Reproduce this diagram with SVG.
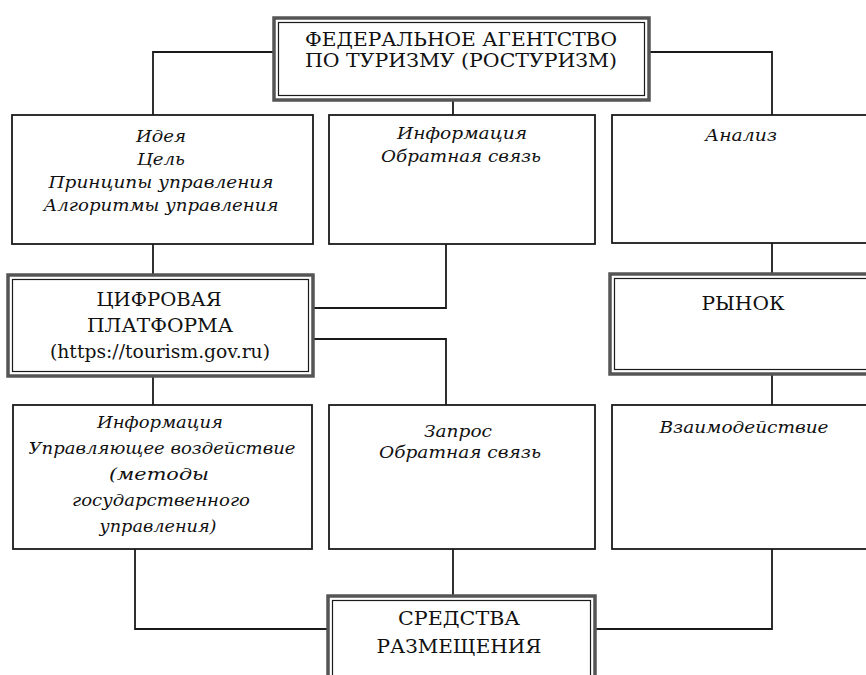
<svg xmlns="http://www.w3.org/2000/svg" width="866" height="675" viewBox="0 0 866 675">
<style>
.box{fill:#fff;stroke:#1a1a1a;stroke-width:1.8}
.dbl-o{fill:#fff;stroke:#555;stroke-width:3.5}
.dbl-i{fill:none;stroke:#1a1a1a;stroke-width:1.2}
.conn{fill:none;stroke:#1a1a1a;stroke-width:1.8}
.up{font-family:"DejaVu Serif","Liberation Serif",serif;font-size:19px;fill:#111;text-anchor:middle}
.it{font-family:"DejaVu Serif","Liberation Serif",serif;font-style:italic;font-size:17px;fill:#111;text-anchor:middle}
</style>
<rect width="866" height="675" fill="#fff"/>
<g id="connectors">
<polyline class="conn" points="274,52 153,52 153,115"/>
<polyline class="conn" points="649,52 772,52 772,115"/>
<line class="conn" x1="453" y1="100" x2="453" y2="115"/>
<line class="conn" x1="153" y1="244" x2="153" y2="275"/>
<polyline class="conn" points="446,244 446,308 313,308"/>
<polyline class="conn" points="313,339 446,339 446,405"/>
<line class="conn" x1="772" y1="243" x2="772" y2="274"/>
<line class="conn" x1="153" y1="376" x2="153" y2="405"/>
<line class="conn" x1="772" y1="374" x2="772" y2="405"/>
<polyline class="conn" points="135,549 135,629 328,629"/>
<line class="conn" x1="453" y1="549" x2="453" y2="596"/>
<polyline class="conn" points="772,549 772,629 595,629"/>
</g>
<g id="rosturizm">
<rect class="dbl-o" x="274" y="18" width="375" height="82"/>
<rect class="dbl-i" x="278.5" y="22.5" width="366" height="73"/>
<text class="up" x="461" y="46" font-size="20" textLength="312" lengthAdjust="spacingAndGlyphs">ФЕДЕРАЛЬНОЕ АГЕНТСТВО</text>
<text class="up" x="461" y="67" font-size="20" textLength="312" lengthAdjust="spacingAndGlyphs">ПО ТУРИЗМУ (РОСТУРИЗМ)</text>
</g>
<g id="idea">
<rect class="box" x="12" y="115" width="301" height="129"/>
<text class="it" x="161" y="142" textLength="50" lengthAdjust="spacingAndGlyphs">Идея</text>
<text class="it" x="161" y="165" textLength="48" lengthAdjust="spacingAndGlyphs">Цель</text>
<text class="it" x="161" y="188" textLength="225" lengthAdjust="spacingAndGlyphs">Принципы управления</text>
<text class="it" x="161" y="211" textLength="235" lengthAdjust="spacingAndGlyphs">Алгоритмы управления</text>
</g>
<g id="info1">
<rect class="box" x="329" y="115" width="266" height="129"/>
<text class="it" x="462" y="139" textLength="130" lengthAdjust="spacingAndGlyphs">Информация</text>
<text class="it" x="461" y="162" textLength="160" lengthAdjust="spacingAndGlyphs">Обратная связь</text>
</g>
<g id="analiz">
<rect class="box" x="612" y="115" width="262" height="128"/>
<text class="it" x="741" y="141" textLength="72" lengthAdjust="spacingAndGlyphs">Анализ</text>
</g>
<g id="platform">
<rect class="dbl-o" x="8" y="275" width="305" height="101"/>
<rect class="dbl-i" x="12.5" y="279.5" width="296" height="92"/>
<text class="up" x="159" y="306" textLength="125" lengthAdjust="spacingAndGlyphs">ЦИФРОВАЯ</text>
<text class="up" x="160" y="332" textLength="146" lengthAdjust="spacingAndGlyphs">ПЛАТФОРМА</text>
<text class="up" x="160" y="358" textLength="220" lengthAdjust="spacingAndGlyphs">(https://tourism.gov.ru)</text>
</g>
<g id="rynok">
<rect class="dbl-o" x="610" y="274" width="270" height="100"/>
<rect class="dbl-i" x="614.5" y="278.5" width="270" height="91"/>
<text class="up" x="743" y="310" textLength="83" lengthAdjust="spacingAndGlyphs">РЫНОК</text>
</g>
<g id="info2">
<rect class="box" x="13" y="405" width="299" height="144"/>
<text class="it" x="160" y="428" textLength="126" lengthAdjust="spacingAndGlyphs">Информация</text>
<text class="it" x="162" y="454" textLength="267" lengthAdjust="spacingAndGlyphs">Управляющее воздействие</text>
<text class="it" x="159" y="480" textLength="100" lengthAdjust="spacingAndGlyphs">(методы</text>
<text class="it" x="161" y="506" textLength="178" lengthAdjust="spacingAndGlyphs">государственного</text>
<text class="it" x="158" y="532" textLength="117" lengthAdjust="spacingAndGlyphs">управления)</text>
</g>
<g id="zapros">
<rect class="box" x="329" y="405" width="266" height="144"/>
<text class="it" x="458" y="437" textLength="68" lengthAdjust="spacingAndGlyphs">Запрос</text>
<text class="it" x="460" y="458" textLength="162" lengthAdjust="spacingAndGlyphs">Обратная связь</text>
</g>
<g id="vzaimo">
<rect class="box" x="612" y="405" width="262" height="144"/>
<text class="it" x="744" y="433" textLength="169" lengthAdjust="spacingAndGlyphs">Взаимодействие</text>
</g>
<g id="sredstva">
<rect class="dbl-o" x="328" y="596" width="267" height="90"/>
<rect class="dbl-i" x="332.5" y="600.5" width="258" height="90"/>
<text class="up" x="459" y="625" textLength="122" lengthAdjust="spacingAndGlyphs">СРЕДСТВА</text>
<text class="up" x="459" y="653" textLength="165" lengthAdjust="spacingAndGlyphs">РАЗМЕЩЕНИЯ</text>
</g>
</svg>
